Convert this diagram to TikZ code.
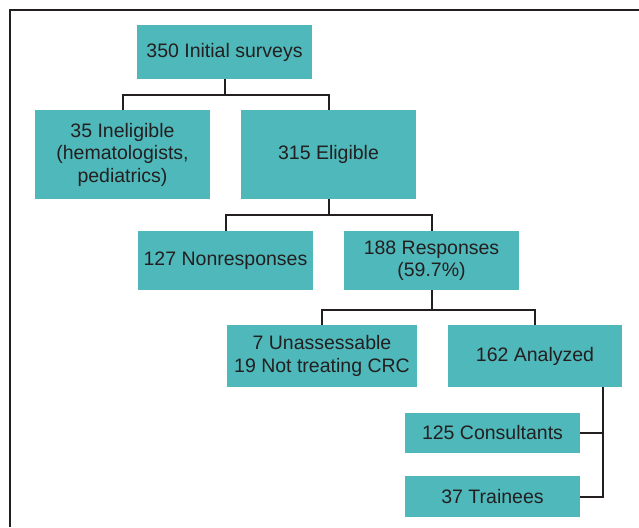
\documentclass[tikz,border=0pt]{standalone}
\usepackage{fontspec}
\setmainfont{Liberation Sans}
\definecolor{teal}{HTML}{4FB8BA}
\definecolor{ink}{HTML}{231F20}
\begin{document}
\begin{tikzpicture}[x=1pt,y=1pt,
  box/.style={fill=teal,draw=none,inner sep=0pt,align=center,text=ink,
    font=\fontsize{19.5}{22.5}\selectfont},
  link/.style={draw=ink,line width=2pt}]
\useasboundingbox (0,0) rectangle (639,-527);
\draw[link] (10,-527) coordinate (fb) -- (10,-10) coordinate (fc) -- (639,-10) coordinate (fr);
\node[box,minimum width=175,minimum height=54] (init) at (224.5,-52) {350 Initial surveys};
\node[box,minimum width=175,minimum height=89] (inel) at (122.5,-154.5) {35 Ineligible\\(hematologists,\\pediatrics)};
\node[box,minimum width=175,minimum height=89] (elig) at (328.5,-154.5) {315 Eligible};
\node[box,minimum width=175,minimum height=59] (nonr) at (225.5,-260.5) {127 Nonresponses};
\node[box,minimum width=175,minimum height=59] (resp) at (431.5,-260.5) {188 Responses\\(59.7\%)};
\node[box,minimum width=190,minimum height=62] (unas) at (322,-356) {7 Unassessable\\19 Not treating CRC};
\node[box,minimum width=174,minimum height=62] (anal) at (535,-356) {162 Analyzed};
\node[box,minimum width=175,minimum height=40] (cons) at (492.5,-433) {125 Consultants};
\node[box,minimum width=175,minimum height=41] (trai) at (492.5,-496.5) {37 Trainees};
\draw[link] (init.south) -- ++(0,-16);
\draw[link] (inel.north) -- ++(0,15) -| (elig.north);
\draw[link] (elig.south) -- ++(0,-16);
\draw[link] (nonr.north) -- ++(0,16) -| (resp.north);
\draw[link] (resp.south) -- ++(0,-20);
\draw[link] (unas.north) -- ++(0,15) -| (anal.north);
\coordinate (ax) at (603,-387);
\draw[link] (ax) |- (trai.east);
\draw[link] (cons.east) -- (cons.east -| ax);
\end{tikzpicture}
\end{document}
